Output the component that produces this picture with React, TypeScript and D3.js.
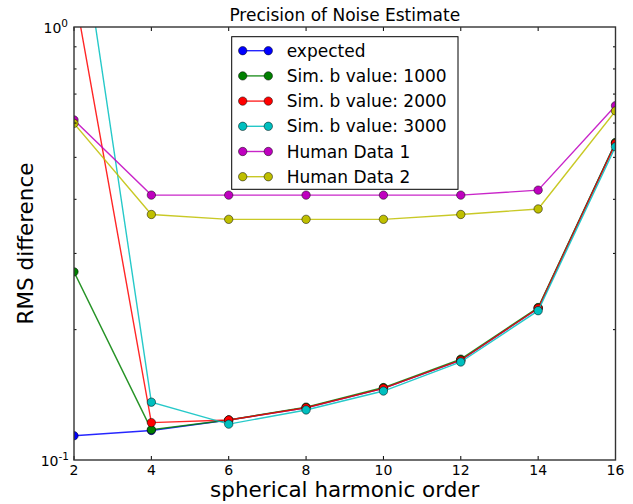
import React from "react";
import * as d3 from "d3";

const orders = [2, 4, 6, 8, 10, 12, 14, 16];
const expected = [0.1138, 0.117, 0.1237, 0.132, 0.1464, 0.17, 0.2241, 0.54];
const sim1000 = [0.272, 0.1175, 0.1237, 0.1325, 0.147, 0.171, 0.225, 0.541];
const sim2000 = [1.22, 0.122, 0.1237, 0.132, 0.1464, 0.17, 0.2241, 0.538];
const sim3000 = [2.17, 0.136, 0.121, 0.1305, 0.1443, 0.1684, 0.2212, 0.529];
const human1 = [0.61, 0.409, 0.409, 0.409, 0.409, 0.409, 0.42, 0.658];
const human2 = [0.599, 0.369, 0.3596, 0.3596, 0.3596, 0.369, 0.38, 0.64];

const seriesNames = [
  "expected",
  "Sim. b value: 1000",
  "Sim. b value: 2000",
  "Sim. b value: 3000",
  "Human Data 1",
  "Human Data 2",
];
const seriesValues = [expected, sim1000, sim2000, sim3000, human1, human2];
const seriesColors = ["#0000ff", "#008000", "#ff0000", "#00bfbf", "#bf00bf", "#bfbf00"];
const minorTicks = [0.2, 0.3, 0.4, 0.5, 0.6, 0.7, 0.8, 0.9];

const L = 74, R = 615.5, T = 27, B = 460;
const FONT = "DejaVu Sans, sans-serif";

export default function App() {
  const x = d3.scaleLinear().domain([2, 16]).range([L, R]);
  const y = d3.scaleLog().domain([0.1, 1]).range([B, T]);
  const line = d3
    .line<[number, number]>()
    .x((d) => x(d[0]))
    .y((d) => y(d[1]));

  const legX = 231.7, legY = 36.7, legW = 226.3, legH = 152.6;
  const rowY0 = 50.7, rowStep = 25.2;

  return (
    <svg
      width={633}
      height={504}
      style={{ position: "absolute", left: 0, top: 0, background: "#fff" }}
      fontFamily={FONT}
    >
      <defs>
        <clipPath id="plotclip">
          <rect x={L} y={T} width={R - L} height={B - T} />
        </clipPath>
      </defs>
      <rect x={0} y={0} width={633} height={504} fill="#fff" />
      <g clipPath="url(#plotclip)">
        {seriesValues.map((vals, i) => {
          const pts = orders.map((o, j) => [o, vals[j]] as [number, number]);
          return (
            <g key={i}>
              <path d={line(pts) || ""} fill="none" stroke={seriesColors[i]} strokeWidth={1.4} opacity={0.85} />
              {pts.map((p, j) => (
                <circle key={j} cx={x(p[0])} cy={y(p[1])} r={4.2} fill={seriesColors[i]} stroke="#000" strokeWidth={0.5} />
              ))}
            </g>
          );
        })}
      </g>
      {/* ticks */}
      <g stroke="#000" strokeWidth={1}>
        {orders.map((o) => (
          <g key={o}>
            <line x1={x(o)} x2={x(o)} y1={B} y2={B - 4} />
            <line x1={x(o)} x2={x(o)} y1={T} y2={T + 4} />
          </g>
        ))}
        {minorTicks.map((v) => (
          <g key={v}>
            <line x1={L} x2={L + 2.5} y1={y(v)} y2={y(v)} />
            <line x1={R} x2={R - 2.5} y1={y(v)} y2={y(v)} />
          </g>
        ))}
      </g>
      <rect x={L} y={T} width={R - L} height={B - T} fill="none" stroke="#333" strokeWidth={1.4} />
      {/* x tick labels */}
      {orders.map((o) => (
        <text key={o} x={x(o)} y={475} fontSize={14} textAnchor="middle" fill="#000">
          {o}
        </text>
      ))}
      {/* y tick labels */}
      <text x={68} y={y(1) + 6} fontSize={14} textAnchor="end" fill="#000">
        10<tspan fontSize={10.5} dy={-6}>0</tspan>
      </text>
      <text x={69} y={y(0.1) + 6} fontSize={14} textAnchor="end" fill="#000">
        10<tspan fontSize={10.5} dy={-6}>-1</tspan>
      </text>
      {/* title and labels */}
      <text x={(L + R) / 2} y={20.5} fontSize={17} textAnchor="middle" fill="#000">
        Precision of Noise Estimate
      </text>
      <text x={(L + R) / 2} y={497} fontSize={21.5} textAnchor="middle" fill="#000">
        spherical harmonic order
      </text>
      <text
        transform={`translate(33, ${(T + B) / 2}) rotate(-90)`}
        fontSize={21.5}
        textAnchor="middle"
        fill="#000"
      >
        RMS difference
      </text>
      {/* legend */}
      <g>
        <rect x={legX} y={legY} width={legW} height={legH} fill="#fff" stroke="#000" strokeWidth={1} />
        {seriesNames.map((name, i) => {
          const ry = rowY0 + i * rowStep;
          return (
            <g key={name}>
              <line x1={242.7} x2={268.3} y1={ry} y2={ry} stroke={seriesColors[i]} strokeWidth={1.4} opacity={0.85} />
              <circle cx={242.7} cy={ry} r={4.2} fill={seriesColors[i]} stroke="#000" strokeWidth={0.5} />
              <circle cx={268.3} cy={ry} r={4.2} fill={seriesColors[i]} stroke="#000" strokeWidth={0.5} />
              <text x={286.7} y={ry + 6} fontSize={17} fill="#000">
                {name}
              </text>
            </g>
          );
        })}
      </g>
    </svg>
  );
}
